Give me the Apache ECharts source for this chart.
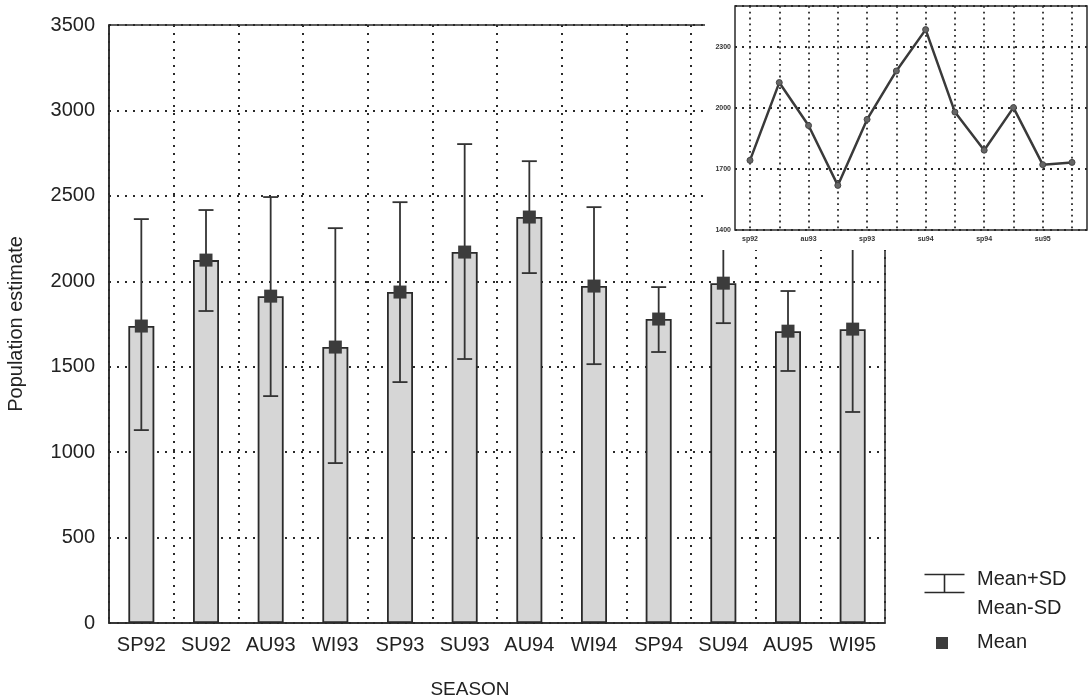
<!DOCTYPE html>
<html>
<head>
<meta charset="utf-8">
<script src="https://cdn.jsdelivr.net/npm/echarts@6/dist/echarts.min.js"></script>
<style>
html,body{margin:0;padding:0;background:#fff;}
#c{width:1089px;height:698px;}
</style>
</head>
<body>
<div id="c"></div>
<script>
// ---- data ----
const categories = ['SP92','SU92','AU93','WI93','SP93','SU93','AU94','WI94','SP94','SU94','AU95','WI95'];
const means   = [1738, 2124, 1913, 1615, 1937, 2171, 2376, 1972, 1779, 1989, 1708, 1720];
const upperSD = [2364, 2417, 2493, 2311, 2463, 2803, 2703, 2434, 1966, 2225, 1943, 2205];
const lowerSD = [1129, 1826, 1328,  936, 1410, 1545, 2048, 1515, 1586, 1755, 1475, 1235];
const yTicks = [0, 500, 1000, 1500, 2000, 2500, 3000, 3500];

const insetTickLabels = ['sp92','','au93','','sp93','','su94','','sp94','','su95',''];
const insetMeans = [1742, 2124, 1913, 1619, 1943, 2181, 2384, 1979, 1792, 2001, 1721, 1732];
const insetYTicks = [1400, 1700, 2000, 2300];

const legendLabels = ['Mean+SD', 'Mean-SD', 'Mean'];

// ---- chart ----
const chart = echarts.init(document.getElementById('c'), null, {renderer: 'canvas'});
const FONT = 'Liberation Sans, Arial, sans-serif';
const INK = '#2a2a2a';
const dotted = {color: INK, width: 2, type: [2, 6]};
const plain = v => String(v);

const errData = categories.map((c, i) => [i, lowerSD[i], upperSD[i]]);

const option = {
  animation: false,
  backgroundColor: '#fff',
  textStyle: {fontFamily: FONT},
  grid: [
    {left: 109, right: 204, top: 25, bottom: 75, show: true, borderColor: INK, borderWidth: 1.5, containLabel: false, outerBoundsMode: 'none'},
    {left: 750, right: 17, top: 6, bottom: 468, outerBoundsMode: 'none'},
    {left: 735, right: 2, top: 6, bottom: 468, show: true, borderColor: INK, borderWidth: 1.5, z: 5, outerBoundsMode: 'none'}
  ],
  xAxis: [
    {
      gridIndex: 0, type: 'category', data: categories, boundaryGap: true,
      axisLine: {lineStyle: {color: INK, width: 1.5}},
      axisTick: {show: false},
      axisLabel: {color: '#222', fontSize: 20, margin: 12, fontFamily: FONT, interval: 0},
      splitLine: {show: true, lineStyle: dotted},
      name: 'SEASON', nameLocation: 'middle', nameGap: 57,
      nameTextStyle: {color: '#222', fontSize: 19, fontFamily: FONT, padding: [0, 54, 0, 0]}
    },
    {
      gridIndex: 1, type: 'category', data: insetTickLabels, boundaryGap: false, z: 6,
      axisLine: {show: false},
      axisTick: {show: false},
      axisLabel: {color: '#333', fontSize: 7, fontWeight: 'bold', margin: 6, interval: 0, fontFamily: FONT},
      splitLine: {show: true, lineStyle: {color: INK, width: 1.8, type: [1.8, 4]}}
    },
    {
      gridIndex: 2, type: 'value', min: 0, max: 1, show: false, z: 6
    }
  ],
  yAxis: [
    {
      gridIndex: 0, type: 'value', min: yTicks[0], max: yTicks[yTicks.length - 1], interval: 500,
      axisLine: {show: true, lineStyle: {color: INK, width: 1.5}},
      axisTick: {show: false},
      axisLabel: {color: '#222', fontSize: 20, margin: 14, fontFamily: FONT, formatter: plain},
      splitLine: {show: true, lineStyle: dotted},
      name: 'Population estimate', nameLocation: 'middle', nameGap: 83, nameRotate: 90,
      nameTextStyle: {color: '#222', fontSize: 20, fontFamily: FONT}
    },
    {
      gridIndex: 1, type: 'value', min: 1400, max: 2500, interval: 300, show: false
    },
    {
      gridIndex: 2, type: 'value', min: insetYTicks[0], max: 2500, interval: 300, z: 6,
      axisLine: {show: false}, axisTick: {show: false},
      axisLabel: {color: '#333', fontSize: 7, fontWeight: 'bold', margin: 4, showMaxLabel: false, fontFamily: FONT, formatter: plain},
      splitLine: {show: true, lineStyle: {color: INK, width: 1.8, type: [2, 5]}}
    }
  ],
  series: [
    {
      type: 'bar', xAxisIndex: 0, yAxisIndex: 0, data: means, barWidth: 26, z: 2,
      itemStyle: {color: '#d6d6d6', borderColor: INK, borderWidth: 1.8}
    },
    {
      type: 'custom', xAxisIndex: 0, yAxisIndex: 0, data: errData, z: 3,
      renderItem: function (params, api) {
        const x = api.value(0);
        const lo = api.coord([x, api.value(1)]);
        const hi = api.coord([x, api.value(2)]);
        const hw = 7.5;
        const st = {stroke: '#333', lineWidth: 1.8};
        return {
          type: 'group',
          children: [
            {type: 'line', shape: {x1: lo[0], y1: lo[1], x2: hi[0], y2: hi[1]}, style: st},
            {type: 'line', shape: {x1: hi[0] - hw, y1: hi[1], x2: hi[0] + hw, y2: hi[1]}, style: st},
            {type: 'line', shape: {x1: lo[0] - hw, y1: lo[1], x2: lo[0] + hw, y2: lo[1]}, style: st}
          ]
        };
      }
    },
    {
      type: 'scatter', xAxisIndex: 0, yAxisIndex: 0, data: means, symbol: 'rect', symbolSize: 13, z: 4,
      itemStyle: {color: '#3c3c3c', opacity: 1}
    },
    {
      type: 'line', xAxisIndex: 1, yAxisIndex: 1, data: insetMeans, z: 8,
      symbol: 'circle', symbolSize: 6,
      lineStyle: {color: '#3a3a3a', width: 2.5},
      itemStyle: {color: '#666', borderColor: '#444', borderWidth: 1}
    }
  ],
  graphic: [
    {type: 'rect', left: 705, top: 0, shape: {width: 384, height: 250}, style: {fill: '#fff'}, z: 4, silent: true},
    {type: 'group', left: 922, top: 572, z: 10, children: [
      {type: 'line', shape: {x1: 0, y1: 0, x2: 40, y2: 0}, style: {stroke: INK, lineWidth: 1.6}},
      {type: 'line', shape: {x1: 0, y1: 18, x2: 40, y2: 18}, style: {stroke: INK, lineWidth: 1.6}},
      {type: 'line', shape: {x1: 20, y1: 0, x2: 20, y2: 18}, style: {stroke: INK, lineWidth: 1.6}}
    ]},
    {type: 'text', left: 977, top: 569, z: 10, style: {text: legendLabels[0], fontSize: 20, fontFamily: FONT, fill: '#222'}},
    {type: 'text', left: 977, top: 598, z: 10, style: {text: legendLabels[1], fontSize: 20, fontFamily: FONT, fill: '#222'}},
    {type: 'rect', left: 936, top: 637, z: 10, shape: {width: 12, height: 12}, style: {fill: '#3c3c3c'}},
    {type: 'text', left: 977, top: 632, z: 10, style: {text: legendLabels[2], fontSize: 20, fontFamily: FONT, fill: '#222'}}
  ]
};
chart.setOption(option);
</script>
</body>
</html>
